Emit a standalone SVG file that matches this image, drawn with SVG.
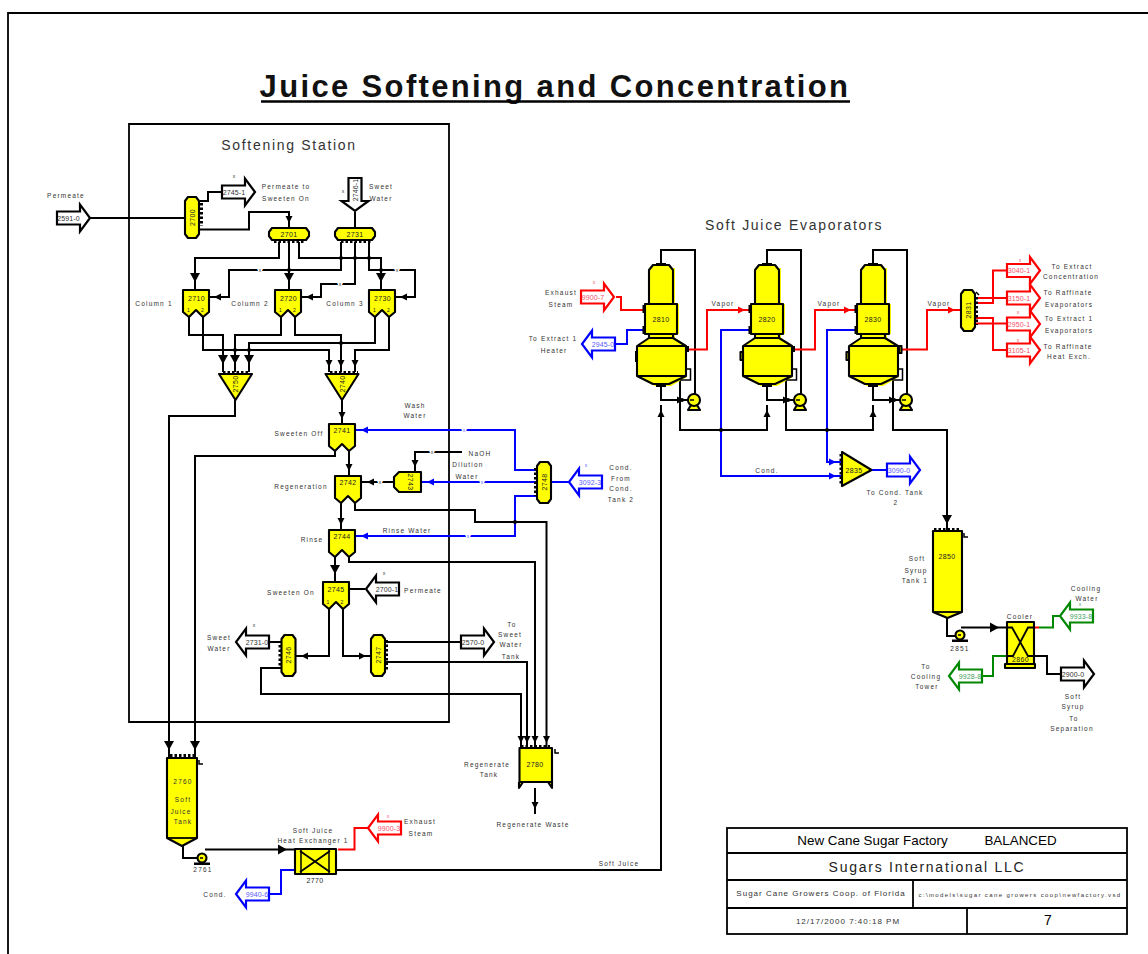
<svg xmlns="http://www.w3.org/2000/svg" width="1148" height="954" viewBox="0 0 1148 954">
<style>
text{font-family:"Liberation Sans",Arial,sans-serif;fill:#333}
.l{font-size:6.500px;letter-spacing:1.200px;text-anchor:middle}
.h{font-size:14px;letter-spacing:1.700px;text-anchor:middle}
.n{font-size:7px;letter-spacing:.4px;text-anchor:middle;fill:#222}
.t{font-size:5px;text-anchor:middle;fill:#222}
.s{font-size:7px;letter-spacing:.1px;text-anchor:middle}
.sr{fill:#f5506a}.sb{fill:#5a5aff}.sg{fill:#3fa060}
.x{font-size:5px;text-anchor:middle;paint-order:stroke;stroke:#fff;stroke-width:3px}
.xk{fill:#333}.xr{fill:#f5506a}.xb{fill:#5a5aff}.xg{fill:#3fa060}
.c{fill:none;stroke-width:2;stroke-linejoin:miter}
.k{stroke:#000}.r{stroke:#f00}.b{stroke:#00f}.g{stroke:#080}
.st{fill:#fff;stroke-width:2.200}
.y{fill:#ff0;stroke:#000;stroke-width:2.100;stroke-linejoin:round}
.sh{fill:#ff0;stroke:none}
.p{fill:none;stroke:#000;stroke-width:3;stroke-dasharray:2.500 2}
.f{fill:none;stroke:#000;stroke-width:1.800}
.fr{fill:none;stroke:#000;stroke-width:1.500}
.d{fill:#000}
</style>
<defs>
<marker id="ab" markerUnits="userSpaceOnUse" viewBox="0 -6 20 12" markerWidth="20" markerHeight="12" refX="17" refY="0" orient="auto"><path d="M0,-5L9,0L0,5Z" fill="#000"/></marker>
<marker id="as" markerUnits="userSpaceOnUse" viewBox="0 -6 20 12" markerWidth="20" markerHeight="12" refX="12" refY="0" orient="auto"><path d="M0,-3.500L7,0L0,3.500Z" fill="#000"/></marker>
<marker id="ar2" markerUnits="userSpaceOnUse" viewBox="0 -6 20 12" markerWidth="20" markerHeight="12" refX="13" refY="0" orient="auto"><path d="M0,-3.500L7,0L0,3.500Z" fill="#f00"/></marker>
<marker id="abl" markerUnits="userSpaceOnUse" viewBox="0 -6 20 12" markerWidth="20" markerHeight="12" refX="13" refY="0" orient="auto"><path d="M0,-3.500L7,0L0,3.500Z" fill="#00f"/></marker>
<path id="ar" d="M0,-6.500H23V-13.500L33,0L23,13.500V6.500H0Z"/>
<path id="al" d="M0,-6.500H-23V-13.500L-33,0L-23,13.500V6.500H0Z"/>
<path id="vcap" d="M3,0H11L14,4V37L11,41H3L0,37V4Z" class="y"/>
<path id="hcap" d="M3,0H37L40,4V8L37,12H3L0,8V4Z" class="y"/>
<path id="col" d="M0,0H26V22L20,27L13,20L6,27L0,22Z" class="y"/>
<path id="tri" d="M0,0H33L16.500,26Z" class="y"/>
<g id="evap">
<path class="sh" d="M-10,268H14V304H18V334H14V338L26,346V377L10,386H-6L-22,377V346L-10,338V334H-14V304H-10Z"/>
<path class="y" d="M-12,304V270L-8,265H8L12,270V304Z"/>
<path class="y" d="M-12,334H12V338H-12Z"/>
<path class="y" d="M-12,338L-24,346V376L-8,384H8L25,376V346L12,338Z"/>
<path class="y" d="M-16,304H16V334H-16Z"/>
<path class="f" d="M-24,346H25M-24,376H25"/>
<path class="fr" d="M25,369H29.500V380H19"/>
<rect class="d" x="-5" y="263" width="10" height="3"/>
<rect class="d" x="-5" y="383" width="10" height="4"/>
<rect class="d" x="-18.500" y="305" width="3" height="8"/>
<rect class="d" x="-18.500" y="326" width="3" height="8"/>
</g>
<g id="pump">
<path class="y" d="M-6,10L-3,5H3L6,10Z"/>
<circle class="y" cx="0" cy="0" r="6"/>
<path class="fr" d="M-4,0H0"/>
</g>
<g id="pump2">
<path class="d" d="M-8,4.500H8V7H-8Z"/>
<circle class="y" cx="0" cy="0" r="4.500"/>
<path class="fr" d="M-2,0H1"/>
</g>
</defs>

<g id="frame">
<path class="f" d="M8,954V13H1148"/>
<path class="f" d="M129,124H449V722H129Z"/>
</g>

<text x="555" y="97" font-size="31" font-weight="bold" letter-spacing="2.350" text-anchor="middle" style="fill:#111">Juice Softening and Concentration</text>
<path d="M261,101.500H850" stroke="#000" stroke-width="2.400" fill="none"/>
<text class="h" x="289" y="150">Softening Station</text>
<text class="h" x="794" y="230">Soft Juice Evaporators</text>

<g id="connectors">
<g class="c k">
<path d="M89,218H185"/>
<path d="M200,201H208V192H222"/>
<path d="M200,229.500H249V212H289V228" marker-end="url(#as)"/>
<path d="M355,212V228"/>
<path d="M279,242V258H195V290" marker-end="url(#ab)"/>
<path d="M289,242V290" marker-end="url(#ab)"/>
<path d="M299,242V258H381V290" marker-end="url(#ab)"/>
<path d="M341,242V270H229V297H209" marker-end="url(#as)"/>
<path d="M355,242V284H321V297H301" marker-end="url(#as)"/>
<path d="M369,242V270H415V297H395" marker-end="url(#as)"/>
<path d="M189,317V335H223V372" marker-end="url(#ab)"/>
<path d="M203,317V350H329V372" marker-end="url(#as)"/>
<path d="M281,317V335H235V372" marker-end="url(#ab)"/>
<path d="M295,317V335H341V372" marker-end="url(#as)"/>
<path d="M375,317V343H249V372" marker-end="url(#ab)"/>
<path d="M389,317V350H355V372" marker-end="url(#as)"/>
<path d="M235,400V416H169V758" marker-end="url(#ab)"/>
<path d="M342,400V424" marker-end="url(#as)"/>
<path d="M335,449V456H195V758" marker-end="url(#ab)"/>
<path d="M349,449V476" marker-end="url(#as)"/>
<path d="M341,501V530" marker-end="url(#as)"/>
<path d="M355,501V510H475V522H546.500V748" marker-end="url(#as)"/>
<path d="M349,555V562H535V748" marker-end="url(#as)"/>
<path d="M335,555V582" marker-end="url(#ab)"/>
<path d="M349,589H365"/>
<path d="M462,452H415V472" marker-end="url(#as)"/>
<path d="M394,482H362" marker-end="url(#as)"/>
<path d="M329,607V656H296" marker-end="url(#as)"/>
<path d="M343,607V656H371" marker-end="url(#as)"/>
<path d="M281,642H269"/>
<path d="M385,642H461"/>
<path d="M385,662H527V748" marker-end="url(#as)"/>
<path d="M281,668H261V694H521V748" marker-end="url(#as)"/>
<path d="M535,788V814" marker-end="url(#as)"/>
<path d="M183,845V858H197"/>
<path d="M205,849.500H295" marker-end="url(#ab)"/>
<path d="M336,870H661V405" marker-end="url(#as)"/>
<path d="M661,386V400H689" marker-end="url(#as)"/>
<path d="M767,386V400H795" marker-end="url(#as)"/>
<path d="M873,386V400H901" marker-end="url(#as)"/>
<path d="M680,381V430H767V405" marker-end="url(#as)"/>
<path d="M786,381V430H873V405" marker-end="url(#as)"/>
<path d="M893,381V430H947V532" marker-end="url(#ab)"/>
<path d="M695,394V250H661V264"/>
<path d="M801,394V250H767V264"/>
<path d="M907,394V250H873V264"/>
<path d="M947,618V636H955"/>
<path d="M961,627.500H1007" marker-end="url(#ab)"/>
<path d="M1034,656H1047V674H1061"/>
</g>
<g class="c b">
<path d="M536,470H515V430H355" marker-end="url(#abl)"/>
<path d="M569,482H551"/>
<path d="M536,482H421" marker-end="url(#abl)"/>
<path d="M536,496H515V536H355" marker-end="url(#abl)"/>
<path d="M615,344H627V330H645"/>
<path d="M751,330H721V476H842" marker-end="url(#abl)"/>
<path d="M857,330H827V462H842" marker-end="url(#abl)"/>
<path d="M872,470H887"/>
<path d="M295,870H281V894H269"/>
</g>
<g class="c r">
<path d="M616,297H621V310H645"/>
<path d="M686,349.500H707V310H751" marker-end="url(#ar2)"/>
<path d="M792,349.500H815V310H857" marker-end="url(#ar2)"/>
<path d="M898,349.500H927V310H961" marker-end="url(#ar2)"/>
<path d="M975,303H993V270.500H1007"/>
<path d="M975,298H1007"/>
<path d="M975,318H993V350H1007"/>
<path d="M975,323.500H1007"/>
<path d="M369,828H354.500V849.500H338"/>
<path d="M1034,627.500H1039"/>
</g>
<g class="c g">
<path d="M1039,627.500H1053V616H1061"/>
<path d="M1007,656H993V676H982"/>
</g>
<g id="junctions" class="d">
<circle cx="341" cy="258" r="2"/><circle cx="355" cy="258" r="2"/><circle cx="369" cy="258" r="2"/>
<circle cx="289" cy="270" r="2"/><circle cx="381" cy="270" r="2"/><circle cx="341" cy="343" r="2"/>
<circle cx="235" cy="350" r="2"/><circle cx="249" cy="350" r="2"/><circle cx="515" cy="522" r="2"/>
<circle cx="721" cy="430" r="2"/><circle cx="827" cy="430" r="2"/>
<circle cx="682" cy="400" r="2"/><circle cx="788" cy="400" r="2"/><circle cx="894" cy="400" r="2"/>
</g>
</g>

<g id="line-marks">
<text class="x xk" x="260" y="272">x</text><text class="x xk" x="340" y="286">x</text><text class="x xk" x="397" y="272">x</text>
<text class="x xb" x="464" y="432">x</text><text class="x xb" x="482" y="484">x</text><text class="x xb" x="468" y="538">x</text>
<text class="x xk" x="432" y="454">x</text><text class="x xk" x="380" y="484">x</text>
<text class="x xk" x="234" y="178" style="stroke:none">x</text>
<text class="x xk" x="384" y="575" style="stroke:none">x</text>
<text class="x xk" x="254" y="627" style="stroke:none">x</text>
<text class="x xb" x="586" y="467" style="stroke:none">x</text>
<text class="x xr" x="594" y="284" style="stroke:none">x</text>
<text class="x xr" x="1020" y="262" style="stroke:none">x</text>
<text class="x xr" x="1018" y="314" style="stroke:none">x</text>
<text class="x xr" x="1018" y="342" style="stroke:none">x</text>
<text class="x xr" x="388" y="818" style="stroke:none">x</text>
<text class="x xg" x="1080" y="606" style="stroke:none">x</text>
<text class="x xk" x="343" y="193" style="stroke:none">x</text>
</g>

<g id="streams">
<g id="s2591-0"><use href="#ar" x="57" y="218" class="st k"/><text class="s" x="68.500" y="220.500">2591-0</text></g>
<g id="s2745-1"><use href="#ar" x="222" y="192" class="st k"/><text class="s" x="234" y="194.500">2745-1</text></g>
<g id="s2746-1"><use href="#ar" transform="translate(355,178) rotate(90)" class="st k"/><text class="s" transform="translate(357.500,190) rotate(-90)">2746-1</text></g>
<g id="s2700-1"><use href="#al" x="399" y="589" class="st k"/><text class="s" x="387" y="591.500">2700-1</text></g>
<g id="s2731-0"><use href="#al" x="269" y="642" class="st k"/><text class="s" x="257" y="644.500">2731-0</text></g>
<g id="s2570-0"><use href="#ar" x="461" y="642" class="st k"/><text class="s" x="473" y="644.500">2570-0</text></g>
<g id="s3092-3"><use href="#al" x="602" y="482" class="st b"/><text class="s sb" x="590" y="484.500">3092-3</text></g>
<g id="s9900-7"><use href="#ar" x="581" y="297" class="st r"/><text class="s sr" x="593" y="299.500">9900-7</text></g>
<g id="s2945-0"><use href="#al" x="615" y="344" class="st b"/><text class="s sb" x="603" y="346.500">2945-0</text></g>
<g id="s3090-0"><use href="#ar" x="887" y="470" class="st b"/><text class="s sb" x="899" y="472.500">3090-0</text></g>
<g id="s3105-1"><use href="#ar" x="1007" y="350" class="st r"/><text class="s sr" x="1019" y="352.500">3105-1</text></g>
<g id="s2950-1"><use href="#ar" x="1007" y="324" class="st r"/><text class="s sr" x="1019" y="326.500">2950-1</text></g>
<g id="s3150-1"><use href="#ar" x="1007" y="298" class="st r"/><text class="s sr" x="1019" y="300.500">3150-1</text></g>
<g id="s3040-1"><use href="#ar" x="1007" y="270.500" class="st r"/><text class="s sr" x="1019" y="273">3040-1</text></g>
<g id="s9933-8"><use href="#al" x="1093" y="616" class="st g"/><text class="s sg" x="1081" y="618.500">9933-8</text></g>
<g id="s9928-8"><use href="#al" x="982" y="676" class="st g"/><text class="s sg" x="970" y="678.500">9928-8</text></g>
<g id="s2900-0"><use href="#ar" x="1061" y="674" class="st k"/><text class="s" x="1073" y="676.500">2900-0</text></g>
<g id="s9900-3"><use href="#al" x="401" y="828" class="st r"/><text class="s sr" x="389" y="830.500">9900-3</text></g>
<g id="s9940-6"><use href="#al" x="269" y="894" class="st b"/><text class="s sb" x="257" y="896.500">9940-6</text></g>
</g>

<g id="n2700"><use href="#vcap" x="185" y="197"/><path class="p" d="M201.500,203V226"/><text class="n" transform="translate(195,217.500) rotate(-90)">2700</text></g>
<g id="n2701"><use href="#hcap" x="269" y="228"/><path class="p" d="M274,241.500H305"/><text class="n" x="289" y="236.500">2701</text></g>
<g id="n2731"><use href="#hcap" x="335" y="228"/><path class="p" d="M341,241.500H372"/><text class="n" x="355" y="236.500">2731</text></g>
<g id="n2710"><use href="#col" x="183" y="290"/><text class="n" x="196.500" y="301">2710</text><text class="t" x="188.500" y="312">1</text><text class="t" x="202.500" y="312">2</text></g>
<g id="n2720"><use href="#col" x="275" y="290"/><text class="n" x="288.500" y="301">2720</text><text class="t" x="280.500" y="312">1</text><text class="t" x="294.500" y="312">2</text></g>
<g id="n2730"><use href="#col" x="369" y="290"/><text class="n" x="382.500" y="301">2730</text><text class="t" x="374.500" y="312">1</text><text class="t" x="388.500" y="312">2</text></g>
<g id="n2750"><use href="#tri" x="219" y="374"/><path class="p" d="M223,372.500H250"/><text class="n" transform="translate(238,384) rotate(-90)">2750</text></g>
<g id="n2740"><use href="#tri" x="325.500" y="374"/><path class="p" d="M330,372.500H358"/><text class="n" transform="translate(345,384) rotate(-90)">2740</text></g>
<g id="n2741"><use href="#col" x="329" y="424"/><text class="n" x="342" y="432.500">2741</text></g>
<g id="n2742"><use href="#col" x="335" y="476"/><text class="n" x="348" y="484.500">2742</text></g>
<g id="n2744"><use href="#col" x="329" y="530"/><text class="n" x="342" y="538.500">2744</text></g>
<g id="n2745"><use href="#col" x="323" y="582"/><text class="n" x="336" y="592">2745</text><text class="t" x="328" y="604">1</text><text class="t" x="342" y="604">2</text></g>
<g id="n2743"><path class="y" d="M421,472V492H399L394,487V477L399,472Z"/><text class="n" transform="translate(408,482) rotate(90)">2743</text></g>
<g id="n2748"><use href="#vcap" x="537" y="462"/><path class="p" d="M535.500,468V496"/><text class="n" transform="translate(547,482) rotate(-90)">2748</text></g>
<g id="n2746"><use href="#vcap" x="281.500" y="635"/><path class="p" d="M280,645V667"/><text class="n" transform="translate(291,655) rotate(-90)">2746</text></g>
<g id="n2747"><use href="#vcap" x="371" y="635"/><path class="p" d="M386.500,640V670"/><text class="n" transform="translate(381,655) rotate(-90)">2747</text></g>
<g id="n2760"><path class="y" d="M167,758H197V838L182,846L167,838Z"/><path class="f" d="M167,838H197"/><path class="p" d="M170,755.500H195"/><path class="fr" d="M199,760V764H203"/><text class="l" x="183" y="784">2760</text><text class="l" x="183" y="802">Soft</text><text class="l" x="181" y="814">Juice</text><text class="l" x="183" y="824">Tank</text></g>
<g id="n2761"><use href="#pump2" x="202" y="858"/></g>
<g id="n2770"><rect class="y" x="295" y="849" width="41" height="25"/><path class="fr" d="M301,849V874M329,849V874"/><path class="f" d="M300,851L330,872M300,872L330,851"/><text class="n" x="315" y="882.500">2770</text></g>
<g id="n2780"><path class="y" d="M519,782V788L523,782M552,782V788L548,782"/><rect class="y" x="519.500" y="748" width="32.500" height="34"/><path class="p" d="M521,746.500H550"/><path class="fr" d="M555,749V753H559"/><text class="n" x="535" y="767">2780</text></g>
<g id="n2810"><use href="#evap" x="661"/><rect class="d" x="635" y="351" width="2.500" height="11"/><rect class="d" x="686" y="346" width="3" height="6"/><text class="n" x="661" y="322">2810</text></g>
<g id="n2820"><use href="#evap" x="767"/><rect class="y" x="740.500" y="352" width="2.500" height="8"/><rect class="d" x="792" y="346" width="3" height="6"/><text class="n" x="767" y="322">2820</text></g>
<g id="n2830"><use href="#evap" x="873"/><rect class="y" x="846.500" y="352" width="2.500" height="8"/><rect class="y" x="899" y="346" width="2.500" height="7"/><text class="n" x="873" y="322">2830</text></g>
<g id="n2815"><use href="#pump" x="694" y="400"/></g>
<g id="n2825"><use href="#pump" x="800" y="400"/></g>
<g id="n2835p"><use href="#pump" x="906" y="400"/></g>
<g id="n2835"><path class="y" d="M842,452L871.500,470L842,486Z"/><path class="p" d="M841,454V485"/><text class="n" x="854" y="472.500">2835</text></g>
<g id="n2831"><use href="#vcap" x="961" y="290"/><path class="p" d="M976.500,297V325"/><path class="fr" d="M976,292L979,295"/><text class="n" transform="translate(970.500,310) rotate(-90)">2831</text></g>
<g id="n2850"><path class="y" d="M933,531H962V612L947.500,618L933,612Z"/><path class="f" d="M933,612H962"/><path class="p" d="M934,529.500H961" stroke-width="2"/><path class="fr" d="M964,533V537L968,537"/><text class="n" x="947" y="558.500">2850</text></g>
<g id="n2851"><use href="#pump2" x="960" y="635"/></g>
<g id="n2860"><rect class="y" x="1007" y="622" width="27" height="43"/><path class="f" d="M1007,627.500H1012L1028,656H1034M1007,656H1013L1028,627.500H1034"/><rect class="y" x="1005" y="664" width="30" height="4"/><text class="n" x="1020.500" y="662">2860</text></g>

<g id="labels">
<text class="l" x="66" y="198">Permeate</text>
<text class="l" x="286" y="188.500">Permeate to</text><text class="l" x="286" y="200.500">Sweeten On</text>
<text class="l" x="381" y="188.500">Sweet</text><text class="l" x="381" y="200.500">Water</text>
<text class="l" x="154" y="306">Column 1</text><text class="l" x="250" y="306">Column 2</text><text class="l" x="345" y="306">Column 3</text>
<text class="l" x="415" y="408">Wash</text><text class="l" x="415" y="418">Water</text>
<text class="l" x="299" y="436">Sweeten Off</text>
<text class="l" x="480" y="456">NaOH</text><text class="l" x="468" y="466.500">Dilution</text><text class="l" x="467" y="478.500">Water</text>
<text class="l" x="301" y="488.500">Regeneration</text>
<text class="l" x="407" y="532.500">Rinse Water</text>
<text class="l" x="312" y="542">Rinse</text>
<text class="l" x="291" y="594.500">Sweeten On</text>
<text class="l" x="423" y="592.500">Permeate</text>
<text class="l" x="219" y="640">Sweet</text><text class="l" x="219" y="650.500">Water</text>
<text class="l" x="512" y="626.500">To</text><text class="l" x="510" y="636.500">Sweet</text><text class="l" x="511" y="646.500">Water</text><text class="l" x="511" y="658.500">Tank</text>
<text class="l" x="487" y="766.500">Regenerate</text><text class="l" x="489" y="776.500">Tank</text>
<text class="l" x="533" y="826.500">Regenerate Waste</text>
<text class="l" x="420" y="824">Exhaust</text><text class="l" x="421" y="836">Steam</text>
<text class="l" x="313" y="832.500">Soft Juice</text><text class="l" x="313" y="842.500">Heat Exchanger 1</text>
<text class="l" x="215" y="896.500">Cond.</text>
<text class="l" x="203" y="872">2761</text>
<text class="l" x="619" y="865.500">Soft Juice</text>
<text class="l" x="561" y="294.500">Exhaust</text><text class="l" x="561" y="306.500">Steam</text>
<text class="l" x="553" y="340.500">To Extract 1</text><text class="l" x="554" y="352.500">Heater</text>
<text class="l" x="723" y="306">Vapor</text><text class="l" x="829" y="306">Vapor</text><text class="l" x="939" y="306">Vapor</text>
<text class="l" x="1072" y="268.500">To Extract</text><text class="l" x="1071" y="278.500">Concentration</text>
<text class="l" x="1068" y="294.500">To Raffinate</text><text class="l" x="1069" y="306.500">Evaporators</text>
<text class="l" x="1069" y="320.500">To Extract 1</text><text class="l" x="1069" y="332.500">Evaporators</text>
<text class="l" x="1068" y="348.500">To Raffinate</text><text class="l" x="1069" y="358.500">Heat Exch.</text>
<text class="l" x="767" y="472.500">Cond.</text>
<text class="l" x="895" y="494.500">To Cond. Tank</text><text class="l" x="896" y="505">2</text>
<text class="l" x="621" y="470">Cond.</text><text class="l" x="621" y="481">From</text><text class="l" x="621" y="491">Cond.</text><text class="l" x="621" y="502">Tank 2</text>
<text class="l" x="917" y="560.500">Soft</text><text class="l" x="916" y="572.500">Syrup</text><text class="l" x="915" y="582.500">Tank 1</text>
<text class="l" x="960" y="650.500">2851</text>
<text class="l" x="1020" y="618.500">Cooler</text>
<text class="l" x="1086" y="590.500">Cooling</text><text class="l" x="1087" y="600.500">Water</text>
<text class="l" x="926" y="668.500">To</text><text class="l" x="926" y="678.500">Cooling</text><text class="l" x="927" y="688.500">Tower</text>
<text class="l" x="1073" y="698.500">Soft</text><text class="l" x="1073" y="708.500">Syrup</text><text class="l" x="1074" y="720.500">To</text><text class="l" x="1072" y="730.500">Separation</text>
</g>

<g id="title-block">
<rect class="f" x="727" y="828" width="400" height="106"/>
<path class="f" d="M727,853H1127M727,880H1127M727,908H1127M913,880V908M967,908V934"/>
<text x="872.500" y="845" font-size="13.400" text-anchor="middle" style="fill:#000">New Cane Sugar Factory</text>
<text x="1020.500" y="845" font-size="13.400" text-anchor="middle" style="fill:#000">BALANCED</text>
<text x="927" y="872" font-size="14" letter-spacing="1.750" text-anchor="middle" style="fill:#222">Sugars International LLC</text>
<text x="821" y="896" font-size="8" letter-spacing="1" text-anchor="middle">Sugar Cane Growers Coop. of Florida</text>
<text x="1020" y="896.500" font-size="6" letter-spacing="1.400" text-anchor="middle">c:\models\sugar cane growers coop\newfactory.vsd</text>
<text x="848" y="924" font-size="8" letter-spacing="1" text-anchor="middle">12/17/2000 7:40:18 PM</text>
<text x="1048" y="925" font-size="14" text-anchor="middle" style="fill:#000">7</text>
</g>
</svg>
